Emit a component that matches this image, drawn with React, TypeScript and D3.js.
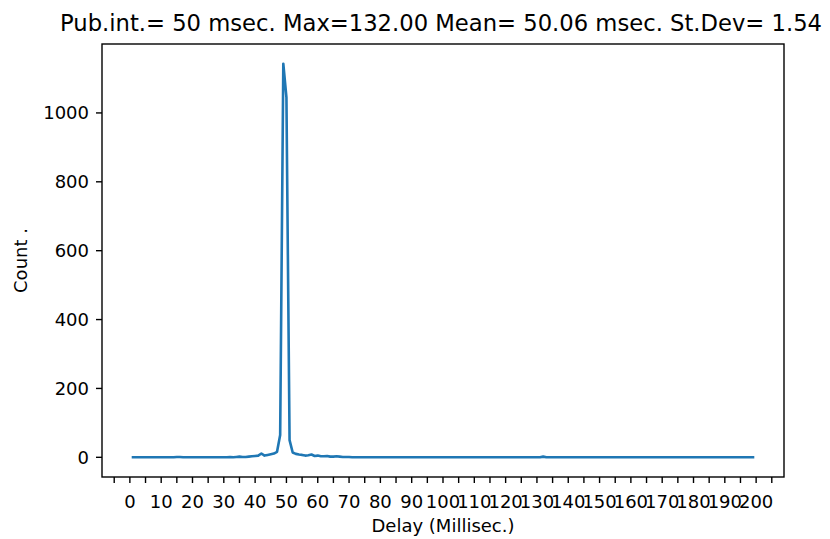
import React from "react";
import * as d3 from "d3";

// delay bins (msec) and counts
const delays = d3.range(1, 200);
const counts = [
  0, 0, 0, 0, 0, 0, 0, 0, 0, 0,
  0, 0, 0, 0, 1, 1, 0, 0, 0, 0,
  0, 0, 0, 0, 0, 0, 0, 0, 0, 0,
  0, 1, 0, 1, 2, 1, 1, 2, 3, 4,
  5, 11, 5, 7, 9, 11, 16, 65, 1143, 1045,
  50, 14, 10, 8, 7, 5, 6, 8, 4, 5,
  3, 3, 4, 2, 2, 3, 2, 1, 1, 1,
  0, 0, 0, 0, 0, 0, 0, 0, 0, 0,
  0, 0, 0, 0, 0, 0, 0, 0, 0, 0,
  0, 0, 0, 0, 0, 0, 0, 0, 0, 0,
  0, 0, 0, 0, 0, 0, 0, 0, 0, 0,
  0, 0, 0, 0, 0, 0, 0, 0, 0, 0,
  0, 0, 0, 0, 0, 0, 0, 0, 0, 0,
  0, 2, 0, 0, 0, 0, 0, 0, 0, 0,
  0, 0, 0, 0, 0, 0, 0, 0, 0, 0,
  0, 0, 0, 0, 0, 0, 0, 0, 0, 0,
  0, 0, 0, 0, 0, 0, 0, 0, 0, 0,
  0, 0, 0, 0, 0, 0, 0, 0, 0, 0,
  0, 0, 0, 0, 0, 0, 0, 0, 0, 0,
  0, 0, 0, 0, 0, 0, 0, 0, 0,
];
const xTicks = d3.range(-5, 210, 5);
const xLabels = d3.range(0, 210, 10);
const yTicks = [0, 200, 400, 600, 800, 1000];
const title = "Pub.int.= 50 msec. Max=132.00 Mean= 50.06 msec. St.Dev= 1.54";

const W = 830, H = 539;
const left = 102, right = 784, top = 44, bottom = 477;
const font = "DejaVu Sans, sans-serif";

function pad([a, b]: [number, number]): [number, number] {
  const m = (b - a) * 0.05;
  return [a - m, b + m];
}

export default function App() {
  const x = d3.scaleLinear().domain(pad(d3.extent(delays) as [number, number])).range([left, right]);
  const y = d3.scaleLinear().domain(pad([d3.min(counts)!, d3.max(counts)!])).range([bottom, top]);

  const line = d3.line<number>()
    .x((d, i) => x(delays[i]))
    .y((d) => y(d));

  return (
    <svg width={W} height={H} style={{ position: "absolute", left: 0, top: 0, background: "#fff" }} fontFamily={font}>
      <path d={line(counts)!} fill="none" stroke="#1f77b4" strokeWidth={2.6} strokeLinejoin="round" strokeLinecap="square" />
      <rect x={left} y={top} width={right - left} height={bottom - top} fill="none" stroke="#000" strokeWidth={1.4} />

      {xTicks.map((t) => (
        <line key={"xt" + t} x1={x(t)} x2={x(t)} y1={bottom} y2={bottom + 6} stroke="#000" strokeWidth={1.4} />
      ))}
      {xLabels.map((t) => (
        <text key={"xl" + t} x={x(t)} y={508} fontSize={18} textAnchor="middle" fill="#000">{t}</text>
      ))}

      {yTicks.map((t) => (
        <g key={"y" + t}>
          <line x1={left - 6} x2={left} y1={y(t)} y2={y(t)} stroke="#000" strokeWidth={1.4} />
          <text x={89} y={y(t)} dy="0.36em" fontSize={18} textAnchor="end" fill="#000">{t}</text>
        </g>
      ))}

      <text x={(left + right) / 2} y={532} fontSize={18} textAnchor="middle" fill="#000">Delay (Millisec.)</text>
      <text transform={`translate(27,${(top + bottom) / 2}) rotate(-90)`} fontSize={18} textAnchor="middle" fill="#000">Count .</text>
      <text x={441} y={31} fontSize={22.5} textAnchor="middle" fill="#000" textLength={762} lengthAdjust="spacingAndGlyphs">{title}</text>
    </svg>
  );
}
